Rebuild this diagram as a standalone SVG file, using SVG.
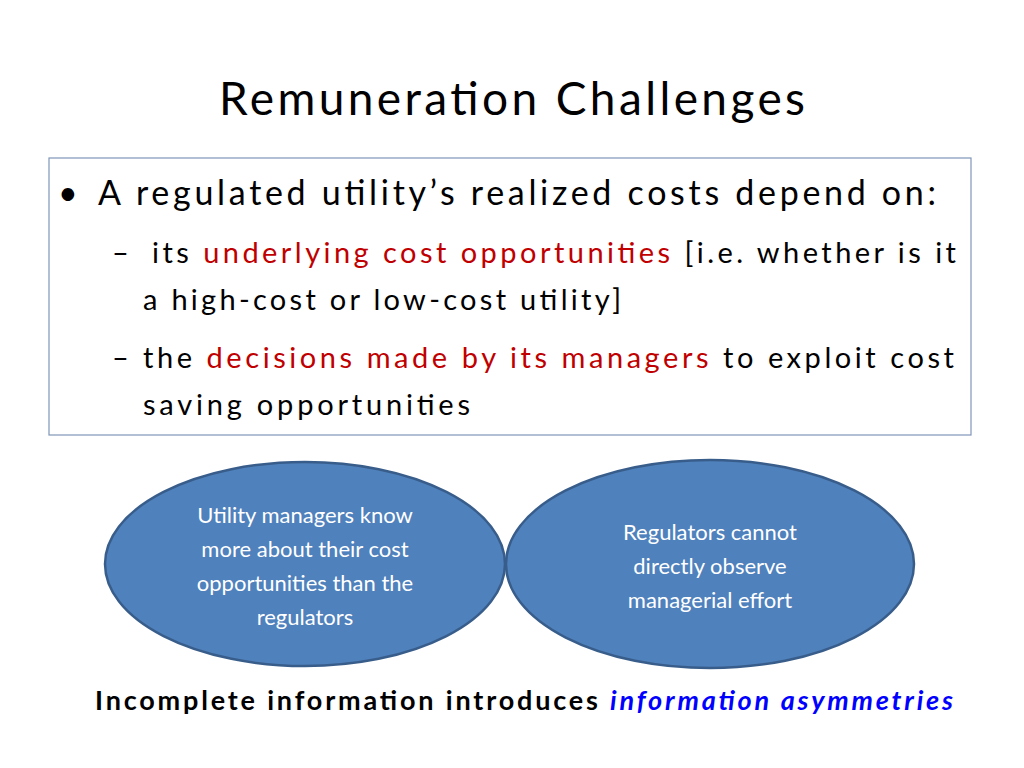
<svg xmlns="http://www.w3.org/2000/svg" width="1024" height="768" viewBox="0 0 1024 768">
<style>
text{font-family:Lato,"Open Sans","Liberation Sans",sans-serif}
.el{fill:#4f81bd;stroke:#385d8a;stroke-width:2.5}
.et{fill:#fff;font-size:22px;text-anchor:middle}
.r{fill:#c00000}
</style>
<rect width="1024" height="768" fill="#fff"/>
<text x="512" y="115" font-size="46" text-anchor="middle" fill="#000" textLength="586">Remuneration Challenges</text>
<g id="box">
<rect x="49" y="158" width="922" height="277" fill="#fff" stroke="#7f95b8" stroke-width="1.2"/>
<text x="58" y="205" font-size="34" fill="#000">•</text>
<text x="98" y="205" font-size="34" fill="#000" textLength="838">A regulated utility’s realized costs depend on:</text>
<text x="112" y="263" font-size="29" fill="#000">–</text>
<text x="152" y="263" font-size="29" fill="#000" textLength="804">its <tspan class="r">underlying cost opportunities</tspan> [i.e. whether is it</text>
<text x="143" y="310" font-size="29" fill="#000" textLength="478">a high-cost or low-cost utility]</text>
<text x="112" y="368" font-size="29" fill="#000">–</text>
<text x="143" y="368" font-size="29" fill="#000" textLength="811">the <tspan class="r">decisions made by its managers</tspan> to exploit cost</text>
<text x="143" y="415" font-size="29" fill="#000" textLength="327">saving opportunities</text>
</g>
<g id="left">
<ellipse class="el" cx="305" cy="564" rx="200" ry="102"/>
<text class="et" x="305" y="523">Utility managers know</text>
<text class="et" x="305" y="557">more about their cost</text>
<text class="et" x="305" y="591">opportunities than the</text>
<text class="et" x="305" y="625">regulators</text>
</g>
<g id="right">
<ellipse class="el" cx="710" cy="564" rx="204" ry="104"/>
<text class="et" x="710" y="540">Regulators cannot</text>
<text class="et" x="710" y="574">directly observe</text>
<text class="et" x="710" y="608">managerial effort</text>
</g>
<g id="connectors"/>
<text x="95" y="710" font-size="27" font-weight="bold" fill="#000" textLength="858">Incomplete information introduces <tspan fill="#0000ff" font-style="italic">information asymmetries</tspan></text>
</svg>
